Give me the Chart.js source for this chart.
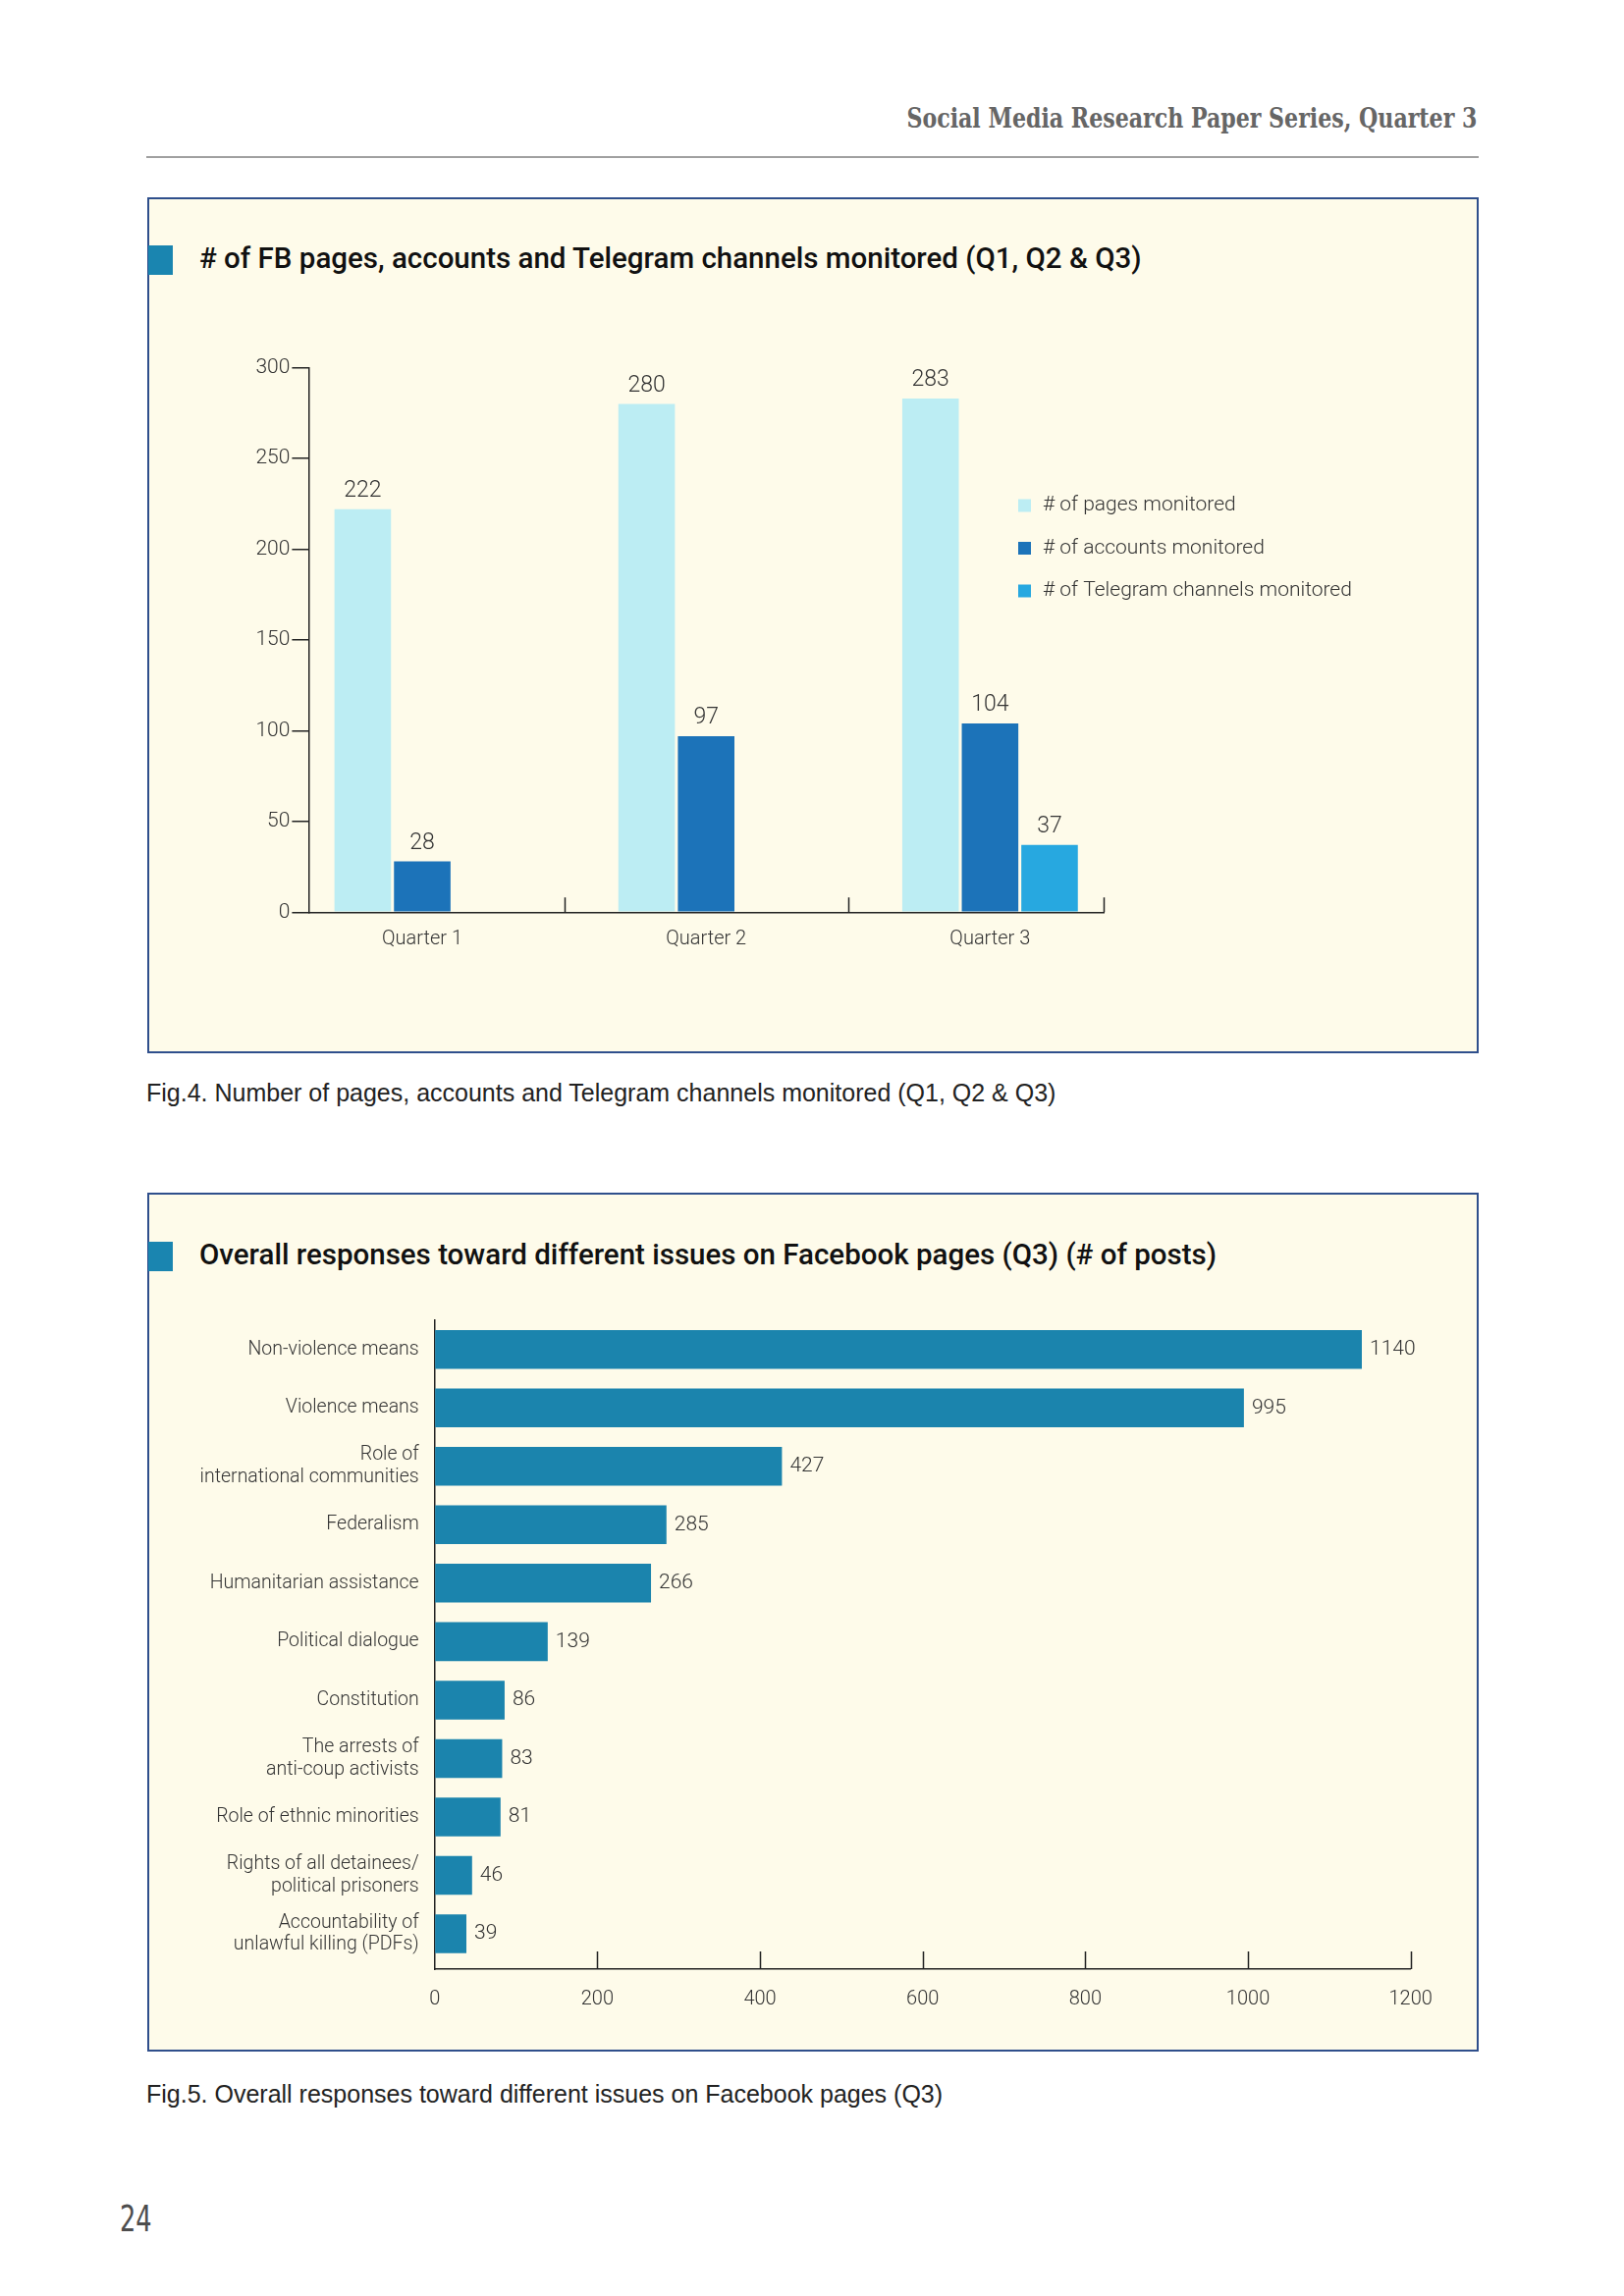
<!DOCTYPE html>
<html>
<head>
<meta charset="utf-8">
<script src="https://cdn.jsdelivr.net/npm/chart.js@4.4.1/dist/chart.umd.min.js"></script>
<style>
  body { margin: 0; background: #fff; font-family: Roboto, "Liberation Sans", sans-serif; }
  #page { position: relative; width: 1654px; height: 2339px; overflow: hidden; }
  .header { position: absolute; right: 150px; top: 105px; font-family: "DejaVu Serif"; font-stretch: condensed;
            font-weight: bold; font-size: 27px; color: #666; white-space: nowrap;
            transform: scaleX(0.91); transform-origin: right center; }
  .rule { position: absolute; left: 149px; width: 1357px; top: 159px; border-top: 2px solid #a0a0a0; }
  .panel { position: absolute; left: 150px; width: 1356px; box-sizing: border-box; background: #fefbea;
           border: 2px solid #2f4f8c; }
  .square { position: absolute; left: 151px; width: 25px; height: 30px; background: #1a85b0; }
  .title { position: absolute; left: 203px; font-weight: 500; font-size: 29.5px; color: #111; white-space: nowrap; }
  .caption { position: absolute; left: 149px; font-family: "Liberation Sans", Arial, sans-serif; font-size: 25px;
             color: #222; white-space: nowrap; }
  .pageno { position: absolute; left: 122px; top: 2238px; font-family: "DejaVu Sans"; font-stretch: condensed;
            font-size: 38px; color: #4d4d4d; transform: scaleX(0.75); transform-origin: left center; }
  .box { position: absolute; left: 150px; width: 1350px; }
</style>
</head>
<body>
<div id="page">
  <div class="header">Social Media Research Paper Series, Quarter 3</div>
  <div class="rule"></div>

  <div class="panel" style="top:201px; height:872px;"></div>
  <div class="square" style="top:250px;"></div>
  <div class="title" style="top:246px;"># of FB pages, accounts and Telegram channels monitored (Q1, Q2 &amp; Q3)</div>
  <div class="box" style="top:300px; height:720px;"><canvas id="monitored"></canvas></div>
  <div class="caption" style="top:1099px;">Fig.4. Number of pages, accounts and Telegram channels monitored (Q1, Q2 &amp; Q3)</div>

  <div class="panel" style="top:1215px; height:875px;"></div>
  <div class="square" style="top:1265px;"></div>
  <div class="title" style="top:1261px;">Overall responses toward different issues on Facebook pages (Q3) (# of posts)</div>
  <div class="box" style="top:1320px; height:760px;"><canvas id="issues"></canvas></div>
  <div class="caption" style="top:2119px;">Fig.5. Overall responses toward different issues on Facebook pages (Q3)</div>

  <div class="pageno">24</div>
</div>
<script>
// chart 1 data
const quarters = ["Quarter 1", "Quarter 2", "Quarter 3"];
const seriesNames = ["# of pages monitored", "# of accounts monitored", "# of Telegram channels monitored"];
const pagesMonitored = [222, 280, 283];
const accountsMonitored = [28, 97, 104];
const telegramMonitored = [null, null, 37];
const countTicks = [0, 50, 100, 150, 200, 250, 300];

// chart 2 data
const issues = [
    "Non-violence means",
    "Violence means",
    ["Role of", "international communities"],
    "Federalism",
    "Humanitarian assistance",
    "Political dialogue",
    "Constitution",
    ["The arrests of", "anti-coup activists"],
    "Role of ethnic minorities",
    ["Rights of all detainees/", "political prisoners"],
    ["Accountability of", "unlawful killing (PDFs)"]
];
const posts = [1140, 995, 427, 285, 266, 139, 86, 83, 81, 46, 39];
const postTicks = [0, 200, 400, 600, 800, 1000, 1200];

const axisColor = "#222";
const textColor = "#333";

Chart.defaults.font.family = "Roboto, 'Liberation Sans', sans-serif";
Chart.defaults.font.weight = 300;
Chart.defaults.color = textColor;

// numbers next to / above the bars
const valueLabels = {
    id: "valueLabels",
    afterDatasetsDraw(chart, args, opts) {
        const ctx = chart.ctx;
        const horizontal = chart.options.indexAxis === "y";
        ctx.save();
        ctx.font = opts.font;
        ctx.fillStyle = opts.color;
        chart.data.datasets.forEach((ds, di) => {
            chart.getDatasetMeta(di).data.forEach((bar, i) => {
                const v = horizontal ? ds.data[i].x : ds.data[i].y;
                if (v === null || v === undefined) return;
                if (horizontal) {
                    ctx.textAlign = "left";
                    ctx.textBaseline = "middle";
                    ctx.fillText(v, bar.x + opts.gap, bar.y);
                } else {
                    ctx.textAlign = "center";
                    ctx.textBaseline = "bottom";
                    ctx.fillText(v, bar.x, bar.y - opts.gap);
                }
            });
        });
        ctx.restore();
    }
};

// tick marks pointing up into the plot from the x axis
const innerTicks = {
    id: "innerTicks",
    afterDraw(chart, args, opts) {
        if (!opts.values) return;
        const ctx = chart.ctx;
        const s = chart.scales.x;
        const y0 = chart.chartArea.bottom;
        ctx.save();
        ctx.strokeStyle = opts.color;
        ctx.lineWidth = opts.width;
        ctx.beginPath();
        opts.values.forEach(v => {
            const px = Math.round(s.getPixelForValue(v)) + 0.5;
            ctx.moveTo(px, y0);
            ctx.lineTo(px, y0 - opts.length);
        });
        ctx.stroke();
        ctx.restore();
    }
};

// legend floating at the right of chart 1
const sideLegend = {
    id: "sideLegend",
    afterDraw(chart, args, opts) {
        if (!opts.x) return;
        const ctx = chart.ctx;
        ctx.save();
        ctx.font = opts.font;
        ctx.textBaseline = "middle";
        ctx.textAlign = "left";
        chart.data.datasets.forEach((ds, i) => {
            const y = opts.y + i * opts.spacing;
            ctx.fillStyle = ds.backgroundColor;
            ctx.fillRect(opts.x, y - opts.box / 2, opts.box, opts.box);
            ctx.fillStyle = opts.color;
            ctx.fillText(ds.label, opts.x + opts.box + opts.textGap, y);
        });
        ctx.restore();
    }
};

const toPoints = (values) => values.map((v, i) => ({ x: i, y: v }));

new Chart(document.getElementById("monitored"), {
    type: "bar",
    data: {
        datasets: [
            { label: seriesNames[0], data: toPoints(pagesMonitored), backgroundColor: "#bcedf3" },
            { label: seriesNames[1], data: toPoints(accountsMonitored), backgroundColor: "#1c73b9" },
            { label: seriesNames[2], data: toPoints(telegramMonitored), backgroundColor: "#27a8e0" }
        ]
    },
    plugins: [valueLabels, innerTicks, sideLegend],
    options: {
        responsive: true,
        maintainAspectRatio: false,
        animation: false,
        categoryPercentage: 0.629,
        barPercentage: 0.95,
        layout: { padding: { left: 0, top: 74.5, right: 376, bottom: 30.7 } },
        scales: {
            x: {
                type: "linear",
                offset: false,
                min: -0.4,
                max: 2.4,
                afterBuildTicks: (s) => { s.ticks = quarters.map((q, i) => ({ value: i })); },
                afterFit: (s) => { s.height = 60; },
                ticks: { callback: (v) => quarters[v], padding: 16, font: { size: 20 }, maxRotation: 0 },
                grid: { offset: false, drawOnChartArea: false, drawTicks: false },
                border: { color: axisColor, width: 1.5 }
            },
            y: {
                min: 0,
                max: 300,
                afterBuildTicks: (s) => { s.ticks = countTicks.map(v => ({ value: v })); },
                afterFit: (s) => { s.width = 164.4; },
                ticks: { padding: 2, font: { size: 21 } },
                grid: { drawOnChartArea: false, tickLength: 17, color: axisColor, lineWidth: 1.5 },
                border: { color: axisColor, width: 1.5 }
            }
        },
        plugins: {
            legend: { display: false },
            tooltip: { enabled: false },
            valueLabels: { font: "300 23px Roboto", color: textColor, gap: 7 },
            innerTicks: { values: [0.5, 1.5, 2.4], length: 15, color: axisColor, width: 1.5 },
            sideLegend: { x: 887, y: 215, spacing: 43.5, box: 13, textGap: 12, font: "300 21px Roboto", color: textColor }
        }
    }
});

new Chart(document.getElementById("issues"), {
    type: "bar",
    data: {
        datasets: [
            { label: "# of posts", data: posts.map((v, i) => ({ x: v, y: i })), backgroundColor: "#1b84ad" }
        ]
    },
    plugins: [valueLabels, innerTicks],
    options: {
        indexAxis: "y",
        responsive: true,
        maintainAspectRatio: false,
        animation: false,
        categoryPercentage: 0.664,
        barPercentage: 1,
        layout: { padding: { left: 0, top: 25, right: 63.3, bottom: 14 } },
        scales: {
            x: {
                type: "linear",
                min: 0,
                max: 1200,
                afterBuildTicks: (s) => { s.ticks = postTicks.map(v => ({ value: v })); },
                afterFit: (s) => { s.height = 60; },
                ticks: { callback: (v) => String(v), padding: 19, font: { size: 20 } },
                grid: { drawOnChartArea: false, drawTicks: false },
                border: { color: axisColor, width: 1.5 }
            },
            y: {
                type: "linear",
                offset: false,
                reverse: true,
                min: -0.5,
                max: 10.605,
                afterBuildTicks: (s) => { s.ticks = issues.map((q, i) => ({ value: i })); },
                afterFit: (s) => { s.width = 292.7; s.paddingTop = 0; s.paddingBottom = 0; },
                ticks: { callback: (v) => issues[v], padding: 16, font: { size: 19.5, lineHeight: 1.15 } },
                grid: { offset: false, drawOnChartArea: false, drawTicks: false },
                border: { color: axisColor, width: 1.5 }
            }
        },
        plugins: {
            legend: { display: false },
            tooltip: { enabled: false },
            valueLabels: { font: "300 21px Roboto", color: textColor, gap: 8 },
            innerTicks: { values: postTicks.slice(1), length: 18, color: axisColor, width: 1.5 }
        }
    }
});
</script>
</body>
</html>
